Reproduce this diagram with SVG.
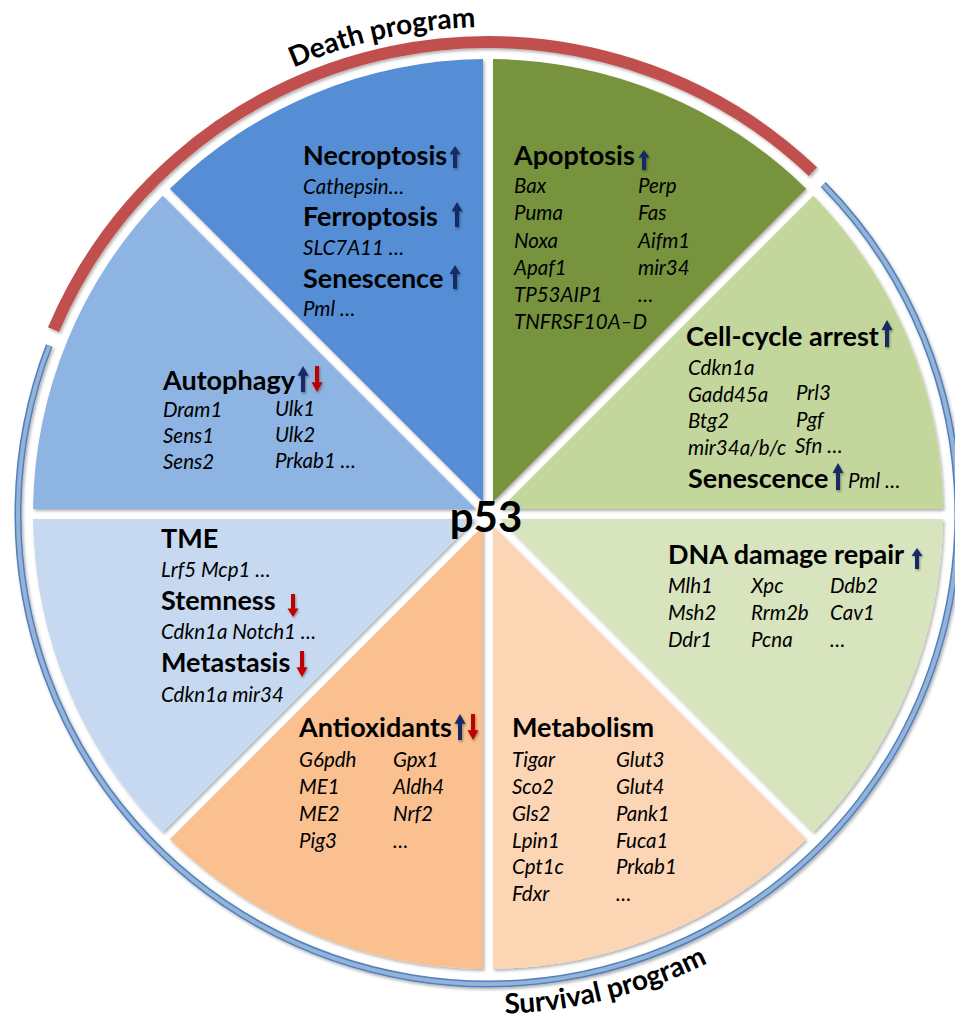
<svg xmlns="http://www.w3.org/2000/svg" xmlns:xlink="http://www.w3.org/1999/xlink" width="955" height="1021" viewBox="0 0 955 1021">
<style>
  text { font-family: Lato, "Liberation Sans", sans-serif; fill: #000; }
  .h { font-weight: 700; font-size: 27px; }
  .g { font-style: italic; font-size: 20.5px; }
  .p53 { font-weight: 700; font-size: 42px; }
  .prog { font-weight: 700; font-size: 28px; }
  .up { fill: #142C66; }
  .dn { fill: #C00000; }
</style>
<defs>
  <filter id="sh" x="-10%" y="-10%" width="120%" height="120%">
    <feDropShadow dx="1.5" dy="2" stdDeviation="1.5" flood-color="#000" flood-opacity="0.3"/>
  </filter>
  <filter id="ash" x="-50%" y="-20%" width="200%" height="140%">
    <feDropShadow dx="1" dy="1.5" stdDeviation="1" flood-color="#000" flood-opacity="0.35"/>
  </filter>
  <path id="arUp" d="M0,0 L5.5,9 L2,9 L2,24 L-2,24 L-2,9 L-5.5,9 Z"/>
  <path id="arDn" d="M0,24 L5.5,15 L2,15 L2,0 L-2,0 L-2,15 L-5.5,15 Z"/>
  <path id="deathPath" d="M208.67,115.07 A487,487 0 0 1 572.57,34.4"/>
  <path id="survPath" d="M401.18,1006.4 A500,500 0 0 0 795.83,908.01"/>
</defs>

<g id="programs">
  <path d="M53.52,329.58 A472,472 0 0 1 812.9,171.63" fill="none" stroke="#C0504D" stroke-width="12" filter="url(#sh)"/>
  <g filter="url(#sh)">
    <path d="M823.23,184.57 A470,470 0 1 1 49.2,345.6" fill="none" stroke="#4F81BD" stroke-width="7"/>
    <path d="M823.23,184.57 A470,470 0 1 1 49.2,345.6" fill="none" stroke="#95B3D7" stroke-width="4"/>
  </g>
  <text class="prog"><textPath href="#deathPath" startOffset="50%" text-anchor="middle">Death program</textPath></text>
  <text class="prog"><textPath href="#survPath" startOffset="50%" text-anchor="middle">Survival program</textPath></text>
</g>

<g id="necroptosis">
  <path d="M483,501.93 L169.83,188.75 A455,455 0 0 1 483,59.03 Z" fill="#558ED5" filter="url(#sh)"/>
  <text class="h" x="303" y="165">Necroptosis</text>
  <text class="g" x="303" y="194">Cathepsin…</text>
  <text class="h" x="303" y="226">Ferroptosis</text>
  <text class="g" x="303" y="255">SLC7A11 …</text>
  <text class="h" x="303" y="288">Senescence</text>
  <text class="g" x="303" y="316">Pml …</text>
  <use href="#arUp" class="up" filter="url(#ash)" transform="translate(455,146) scale(1,0.92)"/>
  <use href="#arUp" class="up" filter="url(#ash)" transform="translate(457,202) scale(1,1.04)"/>
  <use href="#arUp" class="up" filter="url(#ash)" transform="translate(455,265)"/>
</g>

<g id="apoptosis">
  <path d="M493,501.93 L493,59.03 A455,455 0 0 1 806.17,188.75 Z" fill="#77933C" filter="url(#sh)"/>
  <text class="h" x="514" y="165">Apoptosis</text>
  <use href="#arUp" class="up" filter="url(#ash)" transform="translate(644,150) scale(1,0.83)"/>
  <text class="g" x="514" y="193">Bax</text>
  <text class="g" x="514" y="220">Puma</text>
  <text class="g" x="514" y="248">Noxa</text>
  <text class="g" x="514" y="275">Apaf1</text>
  <text class="g" x="514" y="302">TP53AIP1</text>
  <text class="g" x="514" y="329">TNFRSF10A–D</text>
  <text class="g" x="638" y="193">Perp</text>
  <text class="g" x="638" y="220">Fas</text>
  <text class="g" x="638" y="248">Aifm1</text>
  <text class="g" x="638" y="275">mir34</text>
  <text class="g" x="638" y="302">…</text>
</g>

<g id="cell-cycle-arrest">
  <path d="M500.08,509 L813.25,195.83 A455,455 0 0 1 942.97,509 Z" fill="#C3D69B" filter="url(#sh)"/>
  <text class="h" x="686" y="346">Cell-cycle arrest</text>
  <use href="#arUp" class="up" filter="url(#ash)" transform="translate(887,320) scale(1,1.12)"/>
  <text class="g" x="688" y="375">Cdkn1a</text>
  <text class="g" x="688" y="402">Gadd45a</text>
  <text class="g" x="688" y="428">Btg2</text>
  <text class="g" x="688" y="455">mir34a/b/c</text>
  <text class="g" x="796" y="400">Prl3</text>
  <text class="g" x="796" y="427">Pgf</text>
  <text class="g" x="795" y="453">Sfn …</text>
  <text class="h" x="688" y="488">Senescence</text>
  <use href="#arUp" class="up" filter="url(#ash)" transform="translate(838,463) scale(1,1.12)"/>
  <text class="g" x="848" y="488">Pml …</text>
</g>

<g id="dna-damage-repair">
  <path d="M500.08,519 L942.97,519 A455,455 0 0 1 813.25,832.17 Z" fill="#D7E4BD" filter="url(#sh)"/>
  <text class="h" x="668" y="564">DNA damage repair</text>
  <use href="#arUp" class="up" filter="url(#ash)" transform="translate(917,548) scale(1,0.88)"/>
  <text class="g" x="668" y="593">Mlh1</text>
  <text class="g" x="668" y="620">Msh2</text>
  <text class="g" x="668" y="647">Ddr1</text>
  <text class="g" x="751" y="593">Xpc</text>
  <text class="g" x="751" y="620">Rrm2b</text>
  <text class="g" x="751" y="647">Pcna</text>
  <text class="g" x="830" y="593">Ddb2</text>
  <text class="g" x="830" y="620">Cav1</text>
  <text class="g" x="830" y="647">…</text>
</g>

<g id="metabolism">
  <path d="M493,526.08 L806.17,839.25 A455,455 0 0 1 493,968.97 Z" fill="#FCD5B5" filter="url(#sh)"/>
  <text class="h" x="512" y="737">Metabolism</text>
  <text class="g" x="512" y="767">Tigar</text>
  <text class="g" x="512" y="794">Sco2</text>
  <text class="g" x="512" y="821">Gls2</text>
  <text class="g" x="512" y="848">Lpin1</text>
  <text class="g" x="512" y="874">Cpt1c</text>
  <text class="g" x="512" y="901">Fdxr</text>
  <text class="g" x="616" y="767">Glut3</text>
  <text class="g" x="616" y="794">Glut4</text>
  <text class="g" x="616" y="821">Pank1</text>
  <text class="g" x="616" y="848">Fuca1</text>
  <text class="g" x="616" y="874">Prkab1</text>
  <text class="g" x="616" y="901">…</text>
</g>

<g id="antioxidants">
  <path d="M483,526.08 L483,968.97 A455,455 0 0 1 169.83,839.25 Z" fill="#FAC090" filter="url(#sh)"/>
  <text class="h" x="299" y="737">Antioxidants</text>
  <use href="#arUp" class="up" filter="url(#ash)" transform="translate(460,714) scale(1,1.08)"/>
  <use href="#arDn" class="dn" filter="url(#ash)" transform="translate(473,714) scale(1,1.08)"/>
  <text class="g" x="299" y="767">G6pdh</text>
  <text class="g" x="299" y="794">ME1</text>
  <text class="g" x="299" y="821">ME2</text>
  <text class="g" x="299" y="848">Pig3</text>
  <text class="g" x="393" y="767">Gpx1</text>
  <text class="g" x="393" y="794">Aldh4</text>
  <text class="g" x="393" y="821">Nrf2</text>
  <text class="g" x="393" y="848">…</text>
</g>

<g id="tme">
  <path d="M475.93,519 L162.75,832.17 A455,455 0 0 1 33.03,519 Z" fill="#C6D9F1" filter="url(#sh)"/>
  <text class="h" x="161" y="548">TME</text>
  <text class="g" x="161" y="577">Lrf5 Mcp1 …</text>
  <text class="h" x="161" y="610">Stemness</text>
  <use href="#arDn" class="dn" filter="url(#ash)" transform="translate(293,594) scale(1,0.96)"/>
  <text class="g" x="161" y="639">Cdkn1a Notch1 …</text>
  <text class="h" x="161" y="672">Metastasis</text>
  <use href="#arDn" class="dn" filter="url(#ash)" transform="translate(302,651) scale(1,1.08)"/>
  <text class="g" x="161" y="702">Cdkn1a mir34</text>
</g>

<g id="autophagy">
  <path d="M475.93,509 L33.03,509 A455,455 0 0 1 162.75,195.83 Z" fill="#8EB4E3" filter="url(#sh)"/>
  <text class="h" x="163" y="390">Autophagy</text>
  <use href="#arUp" class="up" filter="url(#ash)" transform="translate(303,366) scale(1,1.08)"/>
  <use href="#arDn" class="dn" filter="url(#ash)" transform="translate(317,366) scale(1,1.08)"/>
  <text class="g" x="163" y="417">Dram1</text>
  <text class="g" x="163" y="443">Sens1</text>
  <text class="g" x="163" y="469">Sens2</text>
  <text class="g" x="275" y="416">Ulk1</text>
  <text class="g" x="275" y="442">Ulk2</text>
  <text class="g" x="275" y="468">Prkab1 …</text>
</g>

<g id="p53">
  <text class="p53" x="486" y="532" text-anchor="middle">p53</text>
</g>
</svg>
